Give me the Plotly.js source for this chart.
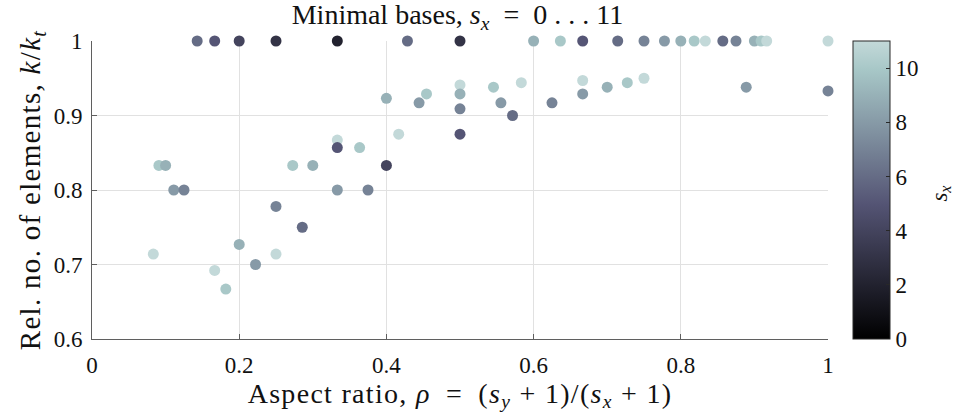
<!DOCTYPE html>
<html>
<head>
<meta charset="utf-8">
<script src="https://cdn.plot.ly/plotly-3.0.1.min.js"></script>
<style>
html,body{margin:0;padding:0;background:#fff;}
#chart{width:959px;height:419px;}
#chart text.ytitle{letter-spacing:1.3px;}
#chart text.xtitle{letter-spacing:1.3px;}
</style>
</head>
<body>
<div id="chart"></div>
<script>
// aspect ratio rho = (sy+1)/(sx+1)
const rho = [
  0.1429, 0.1667, 0.2, 0.25, 0.3333, 0.4286, 0.5, 0.6, 0.6364, 0.6667, 0.7143, 0.75,
  0.7778, 0.8, 0.8182, 0.8333, 0.8571, 0.875, 0.9, 0.9091, 0.9167, 1,
  0.0833, 0.0909, 0.1, 0.1111, 0.125, 0.1667, 0.1818, 0.2, 0.2222, 0.25, 0.25,
  0.2727, 0.2857, 0.3, 0.3333, 0.3333, 0.3333, 0.3636, 0.375, 0.4, 0.4, 0.4167,
  0.4444, 0.4545, 0.5, 0.5, 0.5, 0.5, 0.5455, 0.5556, 0.5714, 0.5833, 0.625,
  0.6667, 0.6667, 0.7, 0.7273, 0.75, 0.8889, 1
];
// relative number of elements k/kt
const kRatio = [
  1, 1, 1, 1, 1, 1, 1, 1, 1, 1, 1, 1,
  1, 1, 1, 1, 1, 1, 1, 1, 1, 1,
  0.714, 0.833, 0.833, 0.8, 0.8, 0.692, 0.667, 0.727, 0.7, 0.778, 0.714,
  0.833, 0.75, 0.833, 0.867, 0.857, 0.8, 0.857, 0.8, 0.923, 0.833, 0.875,
  0.917, 0.929, 0.941, 0.929, 0.909, 0.875, 0.938, 0.917, 0.9, 0.944, 0.917,
  0.947, 0.929, 0.938, 0.944, 0.95, 0.938, 0.933
];
// s_x of each point (colour)
const sx = [
  6, 5, 4, 3, 2, 6, 3, 9, 10, 5, 6, 7,
  8, 9, 10, 11, 6, 7, 9, 10, 11, 11,
  11, 10, 9, 8, 7, 11, 10, 9, 8, 7, 11,
  10, 6, 9, 11, 5, 8, 10, 7, 9, 4, 11,
  8, 10, 11, 9, 7, 5, 10, 8, 6, 11, 7,
  11, 8, 9, 10, 11, 8, 7
];
const xTicks = [0, 0.2, 0.4, 0.6, 0.8, 1];
const yTicks = [0.6, 0.7, 0.8, 0.9, 1];
const cTicks = [0, 2, 4, 6, 8, 10];

// truncated "bone" colormap
const boneScale = [
  [0, 'rgb(0,0,0)'],
  [0.4518, 'rgb(84,84,116)'],
  [0.9036, 'rgb(167,199,199)'],
  [1, 'rgb(195,217,217)']
];

const serif = 'Liberation Serif, Times New Roman, serif';
const axisCol = 'rgb(95,95,95)';
const gridCol = 'rgb(225,225,225)';
const sp = '\u2002';

const trace = {
  type: 'scatter', mode: 'markers',
  x: rho, y: kRatio,
  hoverinfo: 'none', cliponaxis: false,
  marker: {
    size: 11, color: sx, cmin: 0, cmax: 11, colorscale: boneScale,
    line: {width: 0},
    showscale: true,
    colorbar: {
      x: 1.034, xanchor: 'left', xpad: 0,
      y: 0, yanchor: 'bottom', ypad: 0,
      len: 298, lenmode: 'pixels',
      thickness: 37, thicknessmode: 'pixels',
      outlinewidth: 1, outlinecolor: 'rgb(40,40,40)',
      ticks: 'inside', ticklen: 4, tickcolor: 'rgb(40,40,40)',
      tickvals: cTicks, ticktext: cTicks.map(String),
      tickfont: {family: serif, size: 23, color: '#111'},
      ticklabelposition: 'outside'
    }
  }
};

const layout = {
  width: 959, height: 419,
  margin: {l: 92, r: 131, t: 41, b: 80, pad: 0},
  paper_bgcolor: '#fff', plot_bgcolor: '#fff',
  showlegend: false,
  title: {
    text: 'Minimal bases, <i>s</i><sub><i>x</i></sub>' + sp + '=' + sp + '0 . . . 11',
    font: {family: serif, size: 28, color: '#111'},
    x: 0.477, xanchor: 'center', y: 0.967, yanchor: 'middle'
  },
  xaxis: {
    range: [0, 1], tickvals: xTicks, ticktext: xTicks.map(String),
    showgrid: true, gridcolor: gridCol, gridwidth: 1,
    zeroline: false, showline: true, linecolor: axisCol, linewidth: 1,
    ticks: 'inside', ticklen: 5, tickcolor: axisCol,
    tickfont: {family: serif, size: 23, color: '#111'},
    ticklabelstandoff: 5,
    title: {text: 'Aspect ratio, <i>ρ</i>' + sp + '=' + sp + '(<i>s</i><sub><i>y</i></sub> + 1)/(<i>s</i><sub><i>x</i></sub> + 1)',
      font: {family: serif, size: 28, color: '#111'}, standoff: 4}
  },
  yaxis: {
    range: [0.6, 1], tickvals: yTicks, ticktext: ['0.6', '0.7', '0.8', '0.9', '1'],
    showgrid: true, gridcolor: gridCol, gridwidth: 1,
    zeroline: false, showline: true, linecolor: axisCol, linewidth: 1,
    ticks: 'inside', ticklen: 5, tickcolor: axisCol,
    tickfont: {family: serif, size: 23, color: '#111'},
    ticklabelstandoff: 4,
    title: {text: 'Rel. no. of elements, <i>k</i>/<i>k</i><sub><i>t</i></sub>',
      font: {family: serif, size: 29, color: '#111'}, standoff: 4}
  },
  annotations: [{
    text: '<i>s</i><sub><i>x</i></sub>', xref: 'paper', yref: 'paper',
    x: 1.153, y: 0.49, xanchor: 'center', yanchor: 'middle',
    textangle: -90, showarrow: false,
    font: {family: serif, size: 23, color: '#111'}
  }]
};

Plotly.newPlot('chart', [trace], layout, {displayModeBar: false, staticPlot: true});
</script>
</body>
</html>
